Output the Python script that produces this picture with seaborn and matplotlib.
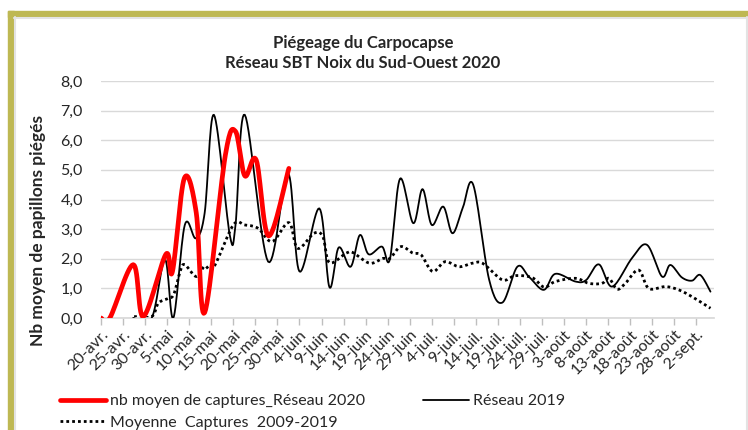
import numpy as np
import pandas as pd
import matplotlib
matplotlib.use("Agg")
import matplotlib.pyplot as plt
from matplotlib.patches import Rectangle
from matplotlib.lines import Line2D
import seaborn as sns

# jours comptes depuis le 20 avril
jours_2020 = [0, 2, 7.3, 9.6, 14.7, 16.2, 18.9, 21.6, 23.5, 28.2, 30.5, 32.6, 35.2, 38, 42.6]
captures_2020 = [0.0, 0.0, 1.8, 0.05, 2.15, 1.57, 4.72, 3.55, 0.18, 5.5, 6.3, 4.8, 5.33, 2.77, 5.05]

jours_2019 = [7.3, 11.5, 14.5, 16.4, 19, 21.5, 23.5, 25.6, 29.2, 30.5, 32.6, 37.9, 42.4, 45, 49.5,
              51.8, 53.9, 56.6, 58.7, 60.7, 63.7, 65.5, 67.8, 70.8, 72.9, 75, 77.6, 79.7, 82,
              84.4, 88, 91, 94.4, 97, 100.4, 103, 107.6, 110, 112.9, 115.9, 120.4, 123.8,
              127.2, 129.1, 131.7, 134, 135.9, 138.2]
captures_2019 = [0.0, 0.0, 1.98, 0.0, 3.14, 2.69, 3.54, 6.86, 2.8, 3.14, 6.86, 1.9, 4.89, 1.57, 3.7,
                 1.04, 2.38, 1.73, 2.8, 2.15, 2.41, 1.98, 4.7, 3.2, 4.35, 3.14, 3.76, 2.86, 3.7,
                 4.5, 1.3, 0.52, 1.73, 1.4, 0.95, 1.49, 1.23, 1.28, 1.81, 1.06, 2.02, 2.47,
                 1.4, 1.79, 1.37, 1.26, 1.45, 0.89]

jours_moy = [7.5, 11.5, 13, 15.2, 16.5, 18, 19, 21.6, 23.5, 25.5, 30, 32.6, 35.6, 38.8, 42.6, 44.6,
             48.3, 50.3, 51.8, 55.6, 57.1, 60.9, 63.9, 65.5, 68, 70.7, 72.6, 75.2, 78, 81.2,
             84.2, 86.5, 90.3, 91.8, 94, 97.8, 100.5, 103, 107.6, 110.6, 113.6, 115.2, 117,
             118.9, 121.9, 124.2, 128, 131, 134, 138.2]
captures_moy = [0.05, 0.05, 0.5, 0.66, 0.8, 1.6, 1.8, 1.4, 1.75, 1.7, 3.14, 3.14, 3.03, 2.58, 3.22, 2.35,
                2.86, 2.75, 1.87, 2.19, 2.21, 1.85, 2.01, 2.01, 2.41, 2.19, 2.13, 1.57, 1.9, 1.73,
                1.85, 1.85, 1.35, 1.28, 1.43, 1.36, 1.04, 1.23, 1.34, 1.17, 1.17, 1.34, 0.97,
                1.17, 1.62, 1.0, 1.06, 0.95, 0.72, 0.33]

x_ticks = list(range(0, 136, 5))
x_labels = ["20-avr.", "25-avr.", "30-avr.", "5-mai", "10-mai", "15-mai", "20-mai", "25-mai",
            "30-mai", "4-juin", "9-juin", "14-juin", "19-juin", "24-juin", "29-juin", "4-juil.",
            "9-juil.", "14-juil.", "19-juil.", "24-juil.", "29-juil.", "3-août", "8-août",
            "13-août", "18-août", "23-août", "28-août", "2-sept."]
y_ticks = list(range(0, 9))
y_labels = ["0,0", "1,0", "2,0", "3,0", "4,0", "5,0", "6,0", "7,0", "8,0"]


def lisse(x, y, n=16):
    # courbe lissee facon Excel (Bezier type Catmull-Rom)
    pts = np.column_stack([x, y]).astype(float)
    P = np.vstack([pts[0], pts, pts[-1]])
    t = np.linspace(0, 1, n)[:, None]
    out = []
    for i in range(len(pts) - 1):
        p0, p1, p2, p3 = P[i], P[i + 1], P[i + 2], P[i + 3]
        c1 = p1 + (p2 - p0) / 6
        c2 = p2 - (p3 - p1) / 6
        seg = (1 - t) ** 3 * p1 + 3 * (1 - t) ** 2 * t * c1 + 3 * (1 - t) * t ** 2 * c2 + t ** 3 * p2
        out.append(seg if i == 0 else seg[1:])
    c = np.vstack(out)
    return pd.DataFrame({"jour": c[:, 0], "val": c[:, 1]})


sns.set_theme(style="white")
plt.rcParams["font.family"] = ["Lato", "DejaVu Sans"]

W, H = 748, 430
fig = plt.figure(figsize=(W / 100, H / 100), dpi=100)
ax = fig.add_axes([101 / W, 1 - 318 / H, (714 - 101) / W, (318 - 81) / H])

sns.lineplot(data=lisse(jours_2020, captures_2020), x="jour", y="val", sort=False, estimator=None,
             color="#FF0000", lw=3.4, ax=ax, label="nb moyen de captures_Réseau 2020", zorder=4)
sns.lineplot(data=lisse(jours_2019, captures_2019), x="jour", y="val", sort=False, estimator=None,
             color="black", lw=1.3, ax=ax, label="Réseau 2019", zorder=3)
sns.lineplot(data=lisse(jours_moy, captures_moy), x="jour", y="val", sort=False, estimator=None,
             color="black", lw=2.0, ax=ax, label="Moyenne  Captures  2009-2019", zorder=2)
ax.lines[2].set_linestyle((0, (1, 1.1)))

ax.set_xlim(0, 139)
ax.set_ylim(0, 8)
ax.set_xticks(x_ticks)
ax.set_xticklabels(x_labels, rotation=45, ha="right", rotation_mode="anchor", fontsize=11.5)
ax.set_yticks(y_ticks)
ax.set_yticklabels(y_labels, fontsize=11.5)
ax.tick_params(axis="x", length=5, color="#BFBFBF", width=1, pad=2, direction="out", bottom=True)
ax.tick_params(axis="y", length=0, pad=13)
ax.yaxis.grid(True, color="#D9D9D9", lw=1)
ax.set_axisbelow(True)
for s in ["left", "right", "top"]:
    ax.spines[s].set_visible(False)
ax.spines["bottom"].set_color("#D9D9D9")
ax.set_xlabel("")
ax.set_ylabel("")

fig.text(38 / W, 1 - 230 / H, "Nb moyen de papillons piégés", rotation=90, ha="center", va="center",
         fontsize=12.5, fontweight="bold")
fig.text(363 / W, 1 - 43 / H, "Piégeage du Carpocapse", ha="center", va="center",
         fontsize=12, fontweight="bold")
fig.text(363 / W, 1 - 63 / H, "Réseau SBT Noix du Sud-Ouest 2020", ha="center", va="center",
         fontsize=12, fontweight="bold")

h, l = ax.get_legend_handles_labels()
ax.get_legend().remove()
order = [0, 2, 1]
fig.legend([h[i] for i in order], [l[i] for i in order], ncol=2, loc="upper left",
           bbox_to_anchor=(60 / W, 1 - 394 / H), frameon=False, fontsize=11.5,
           handlelength=2.9, handletextpad=0.25, columnspacing=3.6, labelspacing=0.45,
           borderpad=0, borderaxespad=0)

# cadre
olive = "#BEB853"
fig.patches.append(Rectangle((8 / W, 1 - 17 / H), 1, 6 / H, transform=fig.transFigure, color=olive, zorder=0))
fig.patches.append(Rectangle((8 / W, 0), 6 / W, 1 - 11 / H, transform=fig.transFigure, color=olive, zorder=0))
fig.lines.append(Line2D([14 / W, 1], [1 - 18 / H, 1 - 18 / H], transform=fig.transFigure, color="#E3E3E3", lw=1.5))
fig.lines.append(Line2D([15 / W, 15 / W], [0, 1 - 17 / H], transform=fig.transFigure, color="#E3E3E3", lw=1.5))
fig.lines.append(Line2D([747 / W, 747 / W], [0, 1 - 17 / H], transform=fig.transFigure, color="#E3E3E3", lw=1.5))

fig.savefig("out.png", dpi=100)
